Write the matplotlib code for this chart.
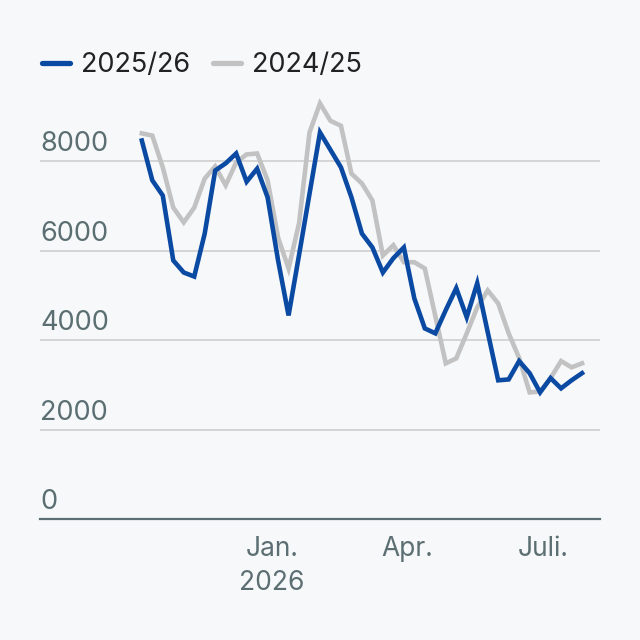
import matplotlib
matplotlib.use("Agg")
import matplotlib.pyplot as plt
import matplotlib.transforms as mtransforms
import pandas as pd

plt.rcParams['font.family'] = ['Inter', 'DejaVu Sans']

# ---- data ----
weeks = pd.date_range("2025-10-06", periods=43, freq="7D")
s_2025_26 = [8460, 7570, 7230, 5780, 5510, 5420, 6380, 7790, 7950, 8170,
             7540, 7830, 7190, 5780, 4550, 5900, 7270, 8640, 8250, 7860,
             7190, 6380, 6070, 5510, 5830, 6070, 4930, 4260, 4150, 4670,
             5160, 4510, 5270, 4180, 3100, 3120, 3530, 3260, 2830, 3150,
             2920, 3100, 3260]
s_2024_25 = [8620, 8570, 7860, 6960, 6630, 6960, 7610, 7880, 7460, 7970,
             8150, 8170, 7570, 6290, 5600, 6610, 8640, 9290, 8900, 8790,
             7720, 7500, 7120, 5890, 6120, 5740, 5740, 5600, 4540, 3480,
             3590, 4150, 4730, 5110, 4820, 4150, 3600, 2830, 2850, 3150,
             3530, 3390, 3480]
series_labels = ["2025/26", "2024/25"]
y_ticks = [0, 2000, 4000, 6000, 8000]
x_tick_dates = ["2026-01-01", "2026-04-01", "2026-07-01"]
x_tick_labels = ["Jan.\n2026", "Apr.", "Juli."]

BG = "#f7f8fa"
BLUE = "#0b4aa2"
GRAY = "#c2c2c2"
TICKC = "#5b6f72"

fig = plt.figure(figsize=(6.4, 6.4), dpi=100, facecolor=BG)
ax = fig.add_axes([40/640, 1 - 519/640, 560/640, (519 - 94)/640], facecolor=BG)

ax.plot(weeks, s_2024_25, color=GRAY, lw=3.3, solid_joinstyle="miter", zorder=3, label=series_labels[1])
ax.plot(weeks, s_2025_26, color=BLUE, lw=3.3, solid_joinstyle="miter", zorder=4, label=series_labels[0])

ax.set_xlim(pd.Timestamp("2025-07-30"), pd.Timestamp("2026-08-08"))
ax.set_ylim(0, 9500)

for s in ["top", "right", "left"]:
    ax.spines[s].set_visible(False)
ax.spines["bottom"].set_color(TICKC)
ax.spines["bottom"].set_linewidth(1.6)
ax.spines["bottom"].set_zorder(5)

ax.set_yticks(y_ticks)
ax.set_yticklabels([])
ax.tick_params(axis="y", length=0)
for v in y_ticks:
    if v > 0:
        ax.axhline(v, color="#cfcfcf", lw=1.2, zorder=1)
    offset = mtransforms.offset_copy(ax.get_yaxis_transform(), fig=fig, x=0, y=10, units="dots")
    ax.text(0, v, f"{v}", transform=offset, ha="left", va="baseline",
            fontsize=19.5, color=TICKC)

ax.set_xticks([pd.Timestamp(d) for d in x_tick_dates])
ax.set_xticklabels(x_tick_labels, fontsize=19, color=TICKC, linespacing=1.4)
ax.tick_params(axis="x", length=0, pad=12)

# legend
leg = fig.legend(handles=[ax.lines[1], ax.lines[0]], labels=series_labels,
                 loc="center left", bbox_to_anchor=(42/640, 1 - 65/640),
                 ncol=2, frameon=False, fontsize=19.5, handlelength=1.05,
                 handletextpad=0.38, columnspacing=0.85, labelcolor="#222222",
                 borderpad=0, borderaxespad=0)
for h in leg.legend_handles:
    h.set_linewidth(3.8)
    h.set_solid_capstyle("round")

fig.savefig("out.png", dpi=100, facecolor=BG)
